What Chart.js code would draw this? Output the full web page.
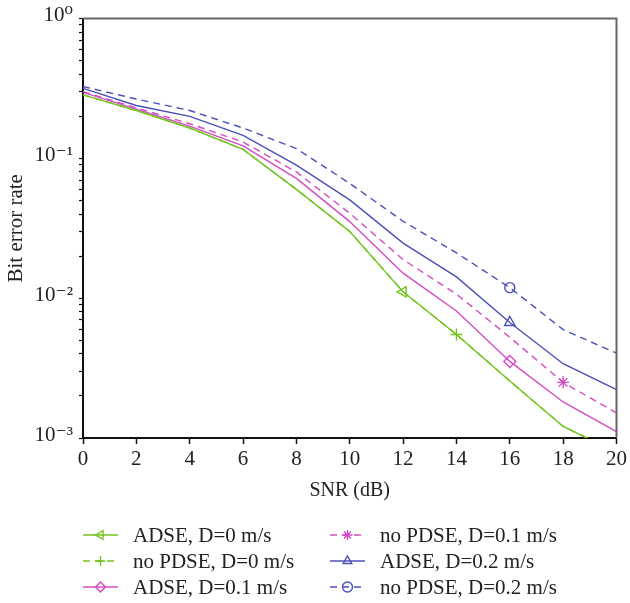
<!DOCTYPE html>
<html>
<head>
    <title>BER vs SNR</title>
    <script src="https://cdn.jsdelivr.net/npm/chart.js"></script>
    <style>
        body { margin: 0; background: #fff; }
        #wrap { width: 630px; height: 603px; }
    </style>
</head>
<body>
    <div id="wrap">
        <canvas id="ber"></canvas>
    </div>
    <script>
        // SNR points (dB)
        var snr = [0, 2, 4, 6, 8, 10, 12, 14, 16, 18, 20];

        // bit error rate per scheme (the two D=0 curves lie on top of each other)
        var berAdse0    = [0.285, 0.220, 0.165, 0.116, 0.0600, 0.0300, 0.0111, 0.00550, 0.00256, 0.00121, 0.00079];
        var berNoPdse0  = [0.285, 0.220, 0.165, 0.116, 0.0600, 0.0300, 0.0111, 0.00550, 0.00256, 0.00121, 0.00079];
        var berAdse01   = [0.297, 0.225, 0.170, 0.123, 0.0720, 0.0353, 0.0151, 0.00810, 0.00353, 0.00181, 0.00111];
        var berNoPdse01 = [0.300, 0.230, 0.177, 0.131, 0.0800, 0.0405, 0.0189, 0.01070, 0.00525, 0.00250, 0.00151];
        var berAdse02   = [0.317, 0.239, 0.200, 0.146, 0.0895, 0.0505, 0.0248, 0.01420, 0.00670, 0.00340, 0.00222];
        var berNoPdse02 = [0.327, 0.266, 0.220, 0.165, 0.1175, 0.0662, 0.0355, 0.02110, 0.01190, 0.00596, 0.00404];

        var seriesNames = ['ADSE, D=0 m/s', 'no PDSE, D=0 m/s', 'ADSE, D=0.1 m/s',
                           'no PDSE, D=0.1 m/s', 'ADSE, D=0.2 m/s', 'no PDSE, D=0.2 m/s'];
        // where each curve gets its single marker
        var markerSnr = [12, 14, 16, 18, 16, 16];

        var xTicks = [0, 2, 4, 6, 8, 10, 12, 14, 16, 18, 20];
        var yDecades = [0.001, 0.01, 0.1, 1];
        var yDecadeLabels = ['10\u207B\u00B3', '10\u207B\u00B2', '10\u207B\u00B9', '10\u2070'];

        var green = '#72c41e';
        var pink = '#d44cc2';
        var blue = '#4b50b8';
        var dash = [7, 5];
        var serif = "'Liberation Serif', 'DejaVu Serif', serif";

        function makeSet(i, values, color, dashed, style, rot, size) {
            return {
                label: seriesNames[i],
                data: snr.map(function (s, k) { return {x: s, y: values[k]}; }),
                borderColor: color,
                backgroundColor: 'rgba(0,0,0,0)',
                borderWidth: 1.4,
                borderDash: dashed ? dash : [],
                tension: 0,
                pointStyle: style,
                rotation: rot || 0,
                pointBorderColor: color,
                pointBackgroundColor: 'rgba(0,0,0,0)',
                pointBorderWidth: 1.4,
                pointRadius: function (c) { return snr[c.dataIndex] === markerSnr[i] ? (size || 6) : 0; },
                pointHoverRadius: 0
            };
        }

        var datasets = [
            makeSet(0, berAdse0, green, false, 'triangle', -90),
            makeSet(1, berNoPdse0, green, true, 'cross'),
            makeSet(2, berAdse01, pink, false, 'rectRot'),
            makeSet(3, berNoPdse01, pink, true, 'star'),
            makeSet(4, berAdse02, blue, false, 'triangle'),
            makeSet(5, berNoPdse02, blue, true, 'circle', 0, 5)
        ];

        // gray top/right frame and the two-column legend under the axes
        var framePlugin = {
            id: 'frame',
            afterDraw: function (chart) {
                var ctx = chart.ctx, a = chart.chartArea;
                ctx.save();
                ctx.strokeStyle = '#666';
                ctx.lineWidth = 2;
                ctx.beginPath();
                ctx.moveTo(a.left, a.top);
                ctx.lineTo(a.right, a.top);
                ctx.lineTo(a.right, a.bottom);
                ctx.stroke();

                var cols = [83, 330];
                var rows = [535, 561, 587];
                ctx.font = '21px ' + serif;
                ctx.textBaseline = 'middle';
                ctx.textAlign = 'left';
                chart.data.datasets.forEach(function (ds, i) {
                    var x0 = cols[Math.floor(i / 3)], y = rows[i % 3];
                    ctx.strokeStyle = ds.borderColor;
                    ctx.lineWidth = ds.borderWidth;
                    ctx.setLineDash(ds.borderDash);
                    ctx.beginPath();
                    ctx.moveTo(x0, y);
                    ctx.lineTo(x0 + 35, y);
                    ctx.stroke();
                    ctx.setLineDash([]);
                    if (Chart.helpers && Chart.helpers.drawPoint) {
                        ctx.fillStyle = 'rgba(0,0,0,0)';
                        Chart.helpers.drawPoint(ctx, {
                            pointStyle: ds.pointStyle, rotation: ds.rotation,
                            radius: 5, borderWidth: 1.4
                        }, x0 + 17.5, y);
                    }
                    ctx.fillStyle = '#222';
                    ctx.fillText(ds.label, x0 + 50, y + 1);
                });
                ctx.restore();
            }
        };

        var ctx = document.getElementById('ber').getContext('2d');
        var chart = new Chart(ctx, {
            type: 'line',
            data: { datasets: datasets },
            options: {
                responsive: true,
                maintainAspectRatio: false,
                animation: false,
                layout: { padding: { left: 0, top: 16, right: 13, bottom: 100 } },
                plugins: {
                    legend: { display: false },
                    tooltip: { enabled: false }
                },
                scales: {
                    x: {
                        type: 'linear',
                        min: 0,
                        max: 20,
                        afterBuildTicks: function (axis) {
                            axis.ticks = xTicks.map(function (v) { return {value: v}; });
                        },
                        afterFit: function (axis) { axis.height = 65; },
                        border: { color: '#111', width: 2 },
                        grid: { drawOnChartArea: false, tickLength: 6, color: '#111', tickWidth: 1.5 },
                        ticks: {
                            padding: 3,
                            color: '#222',
                            font: { family: serif, size: 21 },
                            maxRotation: 0
                        },
                        title: {
                            display: true,
                            text: 'SNR (dB)',
                            color: '#222',
                            font: { family: serif, size: 20 },
                            padding: { top: 0, bottom: 0 }
                        }
                    },
                    y: {
                        type: 'logarithmic',
                        min: 0.001,
                        max: 1,
                        afterBuildTicks: function (axis) {
                            var t = [];
                            yDecades.forEach(function (d, k) {
                                var top = k === yDecades.length - 1 ? 1 : 9;
                                for (var m = 1; m <= top; m++) t.push({value: +(m * d).toPrecision(3)});
                            });
                            axis.ticks = t;
                        },
                        afterFit: function (axis) { axis.width = 83; },
                        border: { color: '#111', width: 2 },
                        grid: { drawOnChartArea: false, tickLength: 4, color: '#111', tickWidth: 1.2 },
                        ticks: {
                            padding: 6,
                            color: '#222',
                            labelOffset: -3,
                            autoSkip: false,
                            font: { family: serif, size: 21 },
                            callback: function (v) {
                                var k = yDecades.indexOf(v);
                                return k >= 0 ? yDecadeLabels[k] : '';
                            }
                        },
                        title: {
                            display: true,
                            text: 'Bit error rate',
                            color: '#222',
                            font: { family: serif, size: 21 },
                            padding: { top: 4, bottom: 0 }
                        }
                    }
                }
            },
            plugins: [framePlugin]
        });
    </script>
</body>
</html>
